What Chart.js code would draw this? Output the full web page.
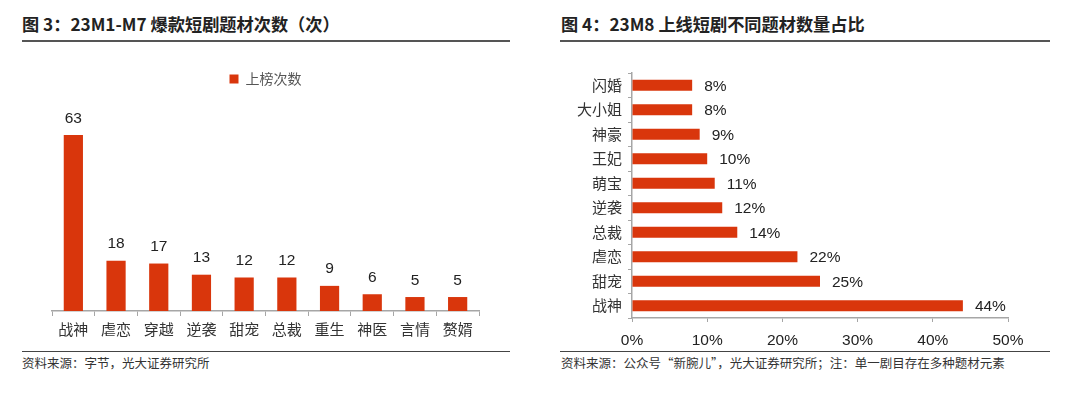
<!DOCTYPE html>
<html>
<head>
<meta charset="utf-8">
<script src="https://cdn.jsdelivr.net/npm/chart.js@4.4.0/dist/chart.umd.min.js"></script>
<style>
  body { margin:0; width:1080px; height:397px; background:#fff; position:relative; overflow:hidden;
         font-family:"Noto Sans CJK SC", sans-serif; }
  .title { position:absolute; top:11px; font-size:17.2px; font-weight:bold; color:#222; white-space:nowrap; }
  .rule { position:absolute; height:0; border-top:2px solid #555; }
  .rule2 { position:absolute; height:0; border-top:1.5px solid #444; }
  .src { position:absolute; top:353px; font-size:12.5px; color:#333; white-space:nowrap; }
  canvas { position:absolute; }
</style>
</head>
<body>
<div class="title" style="left:22px">图 3：23M1-M7 爆款短剧题材次数（次）</div>
<div class="rule" style="left:22px; width:488px; top:40px"></div>
<div class="title" style="left:561px">图 4：23M8 上线短剧不同题材数量占比</div>
<div class="rule" style="left:560px; width:490px; top:40px"></div>

<div id="w1" style="position:absolute; left:22px; top:50px; width:490px; height:295px"><canvas id="c1"></canvas></div>
<div id="w2" style="position:absolute; left:545px; top:50px; width:520px; height:295px"><canvas id="c2"></canvas></div>

<div class="rule2" style="left:22px; width:488px; top:351px"></div>
<div class="src" style="left:22px">资料来源：字节，光大证券研究所</div>
<div class="rule2" style="left:560px; width:490px; top:351px"></div>
<div class="src" style="left:561px">资料来源：公众号“新腕儿”，光大证券研究所；注：单一剧目存在多种题材元素</div>

<script>
// 图3のデータ
const leftLabels = ['战神','虐恋','穿越','逆袭','甜宠','总裁','重生','神医','言情','赘婿'];
const leftValues = [63, 18, 17, 13, 12, 12, 9, 6, 5, 5];
const leftSeries = '上榜次数';

// 図4のデータ（%）
const rightLabels = ['闪婚','大小姐','神豪','王妃','萌宝','逆袭','总裁','虐恋','甜宠','战神'];
const rightValues = [8, 8, 9, 10, 11, 12, 14, 22, 25, 44];
const rightTicks = [0, 10, 20, 30, 40, 50];

const RED = '#d9360c';
const AXIS = '#a6a6a6';
const catFont = { family: '"Noto Sans CJK SC", sans-serif', size: 15 };

// バーの上/右に数値を書くプラグイン
const valueLabels = {
  id: 'valueLabels',
  afterDatasetsDraw(chart, args, opts) {
    const ctx = chart.ctx;
    const meta = chart.getDatasetMeta(0);
    const data = chart.data.datasets[0].data;
    ctx.save();
    ctx.font = '15.5px "Liberation Sans", Arial, sans-serif';
    ctx.fillStyle = '#222';
    meta.data.forEach((bar, i) => {
      const txt = data[i] + (opts.suffix || '');
      if (opts.horizontal) {
        ctx.textAlign = 'left';
        ctx.textBaseline = 'middle';
        ctx.fillText(txt, bar.x + 12, bar.y + 1);
      } else {
        ctx.textAlign = 'center';
        ctx.textBaseline = 'bottom';
        ctx.fillText(txt, bar.x, bar.y - 9);
      }
    });
    ctx.restore();
  }
};

new Chart(document.getElementById('c1'), {
  type: 'bar',
  data: {
    labels: leftLabels,
    datasets: [{
      label: leftSeries,
      data: leftValues,
      backgroundColor: RED,
      barPercentage: 0.9,
      categoryPercentage: 0.5
    }]
  },
  options: {
    responsive: true,
    maintainAspectRatio: false,
    animation: false,
    layout: { padding: { left: 30, right: 33, top: 6, bottom: 3 } },
    plugins: {
      legend: {
        display: true,
        position: 'top',
        labels: { boxWidth: 9, boxHeight: 9, color: '#555', padding: 16,
                  font: { family: '"Noto Sans CJK SC", sans-serif', size: 14 } }
      },
      tooltip: { enabled: false },
      valueLabels: { horizontal: false }
    },
    scales: {
      x: {
        grid: { display: true, offset: true, drawOnChartArea: false, tickLength: 5, color: AXIS },
        border: { display: true, color: AXIS, width: 1.5 },
        ticks: { color: '#333', font: catFont, padding: 4 }
      },
      y: {
        display: false,
        min: 0,
        max: 77
      }
    }
  },
  plugins: [valueLabels]
});

new Chart(document.getElementById('c2'), {
  type: 'bar',
  data: {
    labels: rightLabels,
    datasets: [{
      label: '占比',
      data: rightValues,
      backgroundColor: RED,
      barPercentage: 0.9,
      categoryPercentage: 0.5
    }]
  },
  options: {
    indexAxis: 'y',
    responsive: true,
    maintainAspectRatio: false,
    animation: false,
    layout: { padding: { left: 0, right: 57, top: 23, bottom: 0 } },
    plugins: {
      legend: { display: false },
      tooltip: { enabled: false },
      valueLabels: { horizontal: true, suffix: '%' }
    },
    scales: {
      x: {
        min: 0,
        max: 50,
        afterBuildTicks: s => { s.ticks = rightTicks.map(v => ({ value: v })); },
        afterFit: s => { s.height = 27; },
        grid: { display: true, drawOnChartArea: false, tickLength: 4, color: AXIS },
        border: { display: true, color: AXIS, width: 1.5 },
        ticks: { color: '#222', padding: 9, callback: v => v + '%',
                 font: { family: '"Liberation Sans", Arial, sans-serif', size: 15.5 } }
      },
      y: {
        afterFit: s => { s.width = 87; },
        grid: { display: true, offset: true, drawOnChartArea: false, tickLength: 4, color: AXIS },
        border: { display: true, color: AXIS, width: 1.5 },
        ticks: { color: '#333', font: catFont, padding: 6 }
      }
    }
  },
  plugins: [valueLabels]
});
</script>
</body>
</html>
